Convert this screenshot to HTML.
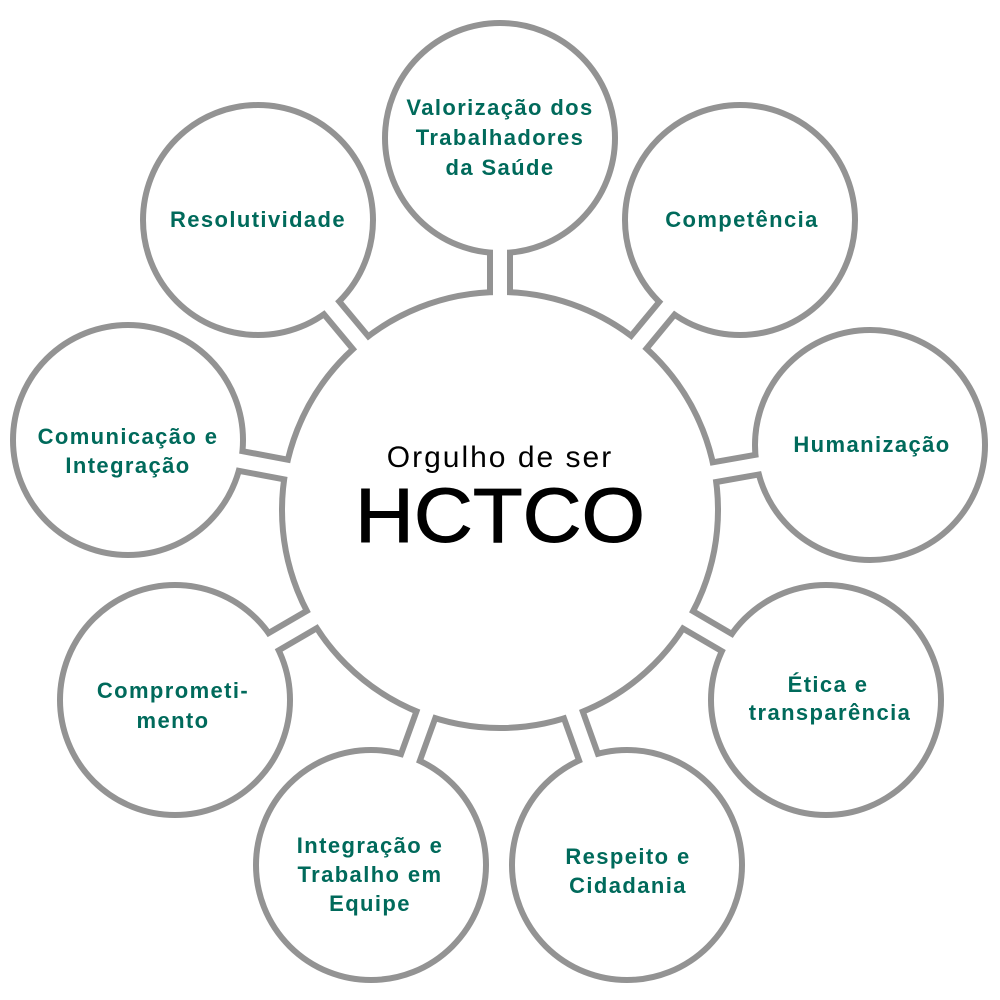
<!DOCTYPE html>
<html><head><meta charset="utf-8"><style>
html,body{margin:0;padding:0;background:#fff;}
svg{display:block;}
.t{font-family:"Liberation Sans",sans-serif;font-size:22px;fill:#006a5b;text-anchor:middle;font-weight:bold;letter-spacing:1.4px;}
</style></head><body>
<svg width="1000" height="1000" viewBox="0 0 1000 1000">
<g fill="none" stroke="#939393" stroke-width="6">
<circle cx="500" cy="510" r="218"/>
<circle cx="500" cy="138" r="115"/>
<circle cx="740" cy="220" r="115"/>
<circle cx="870" cy="445" r="115"/>
<circle cx="826" cy="700" r="115"/>
<circle cx="627" cy="865" r="115"/>
<circle cx="371" cy="865" r="115"/>
<circle cx="175" cy="700" r="115"/>
<circle cx="128" cy="440" r="115"/>
<circle cx="258" cy="220" r="115"/>
</g>
<g>
<g transform="rotate(-90 500 510)"><rect x="718" y="497" width="42" height="26" fill="#939393"/><rect x="710" y="503" width="58" height="14" fill="#fff"/></g>
<g transform="rotate(-50.4 500 510)"><rect x="718" y="497" width="44" height="26" fill="#939393"/><rect x="710" y="503" width="60" height="14" fill="#fff"/></g>
<g transform="rotate(-10 500 510)"><rect x="718" y="497" width="44" height="26" fill="#939393"/><rect x="710" y="503" width="60" height="14" fill="#fff"/></g>
<g transform="rotate(30.3 500 510)"><rect x="718" y="497" width="44" height="26" fill="#939393"/><rect x="710" y="503" width="60" height="14" fill="#fff"/></g>
<g transform="rotate(70.3 500 510)"><rect x="718" y="497" width="44" height="26" fill="#939393"/><rect x="710" y="503" width="60" height="14" fill="#fff"/></g>
<g transform="rotate(109.9 500 510)"><rect x="718" y="497" width="44" height="26" fill="#939393"/><rect x="710" y="503" width="60" height="14" fill="#fff"/></g>
<g transform="rotate(149.8 500 510)"><rect x="718" y="497" width="44" height="26" fill="#939393"/><rect x="710" y="503" width="60" height="14" fill="#fff"/></g>
<g transform="rotate(-169.3 500 510)"><rect x="718" y="497" width="44" height="26" fill="#939393"/><rect x="710" y="503" width="60" height="14" fill="#fff"/></g>
<g transform="rotate(-129.8 500 510)"><rect x="718" y="497" width="44" height="26" fill="#939393"/><rect x="710" y="503" width="60" height="14" fill="#fff"/></g>
</g>
<text x="500" y="467" font-family="Liberation Sans,sans-serif" font-size="30" text-anchor="middle" fill="#000" letter-spacing="2">Orgulho de ser</text>
<text x="500" y="542" font-family="Liberation Sans,sans-serif" font-size="77" text-anchor="middle" fill="#000" stroke="#000" stroke-width="1" textLength="290" lengthAdjust="spacingAndGlyphs">HCTCO</text>
<text class="t" x="500" y="115">Valorização dos</text>
<text class="t" x="500" y="145">Trabalhadores</text>
<text class="t" x="500" y="175">da Saúde</text>
<text class="t" x="742" y="227">Competência</text>
<text class="t" x="872" y="452">Humanização</text>
<text class="t" x="828" y="692">Ética e</text>
<text class="t" x="830" y="720">transparência</text>
<text class="t" x="628" y="864">Respeito e</text>
<text class="t" x="628" y="893">Cidadania</text>
<text class="t" x="370" y="853">Integração e</text>
<text class="t" x="370" y="882">Trabalho em</text>
<text class="t" x="370" y="911">Equipe</text>
<text class="t" x="173" y="698">Comprometi-</text>
<text class="t" x="173" y="728">mento</text>
<text class="t" x="128" y="444">Comunicação e</text>
<text class="t" x="128" y="473">Integração</text>
<text class="t" x="258" y="227">Resolutividade</text>
</svg>
</body></html>
